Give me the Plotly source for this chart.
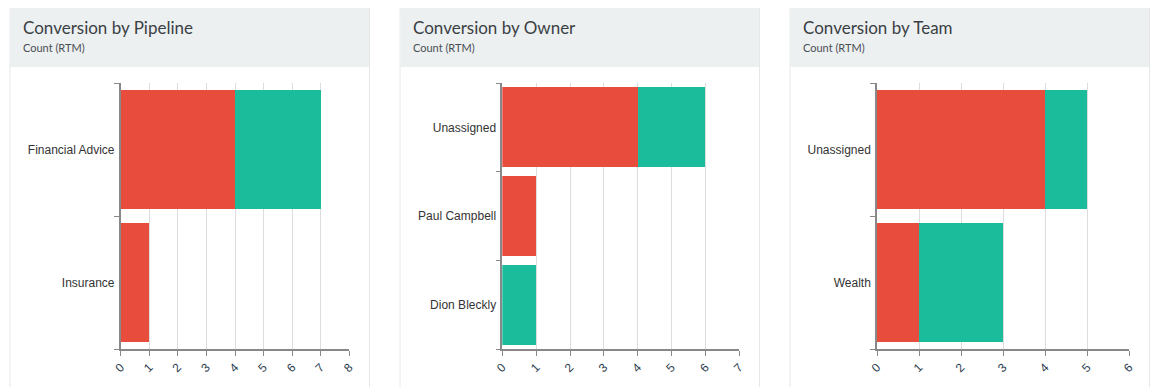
import plotly.graph_objects as go

# page body keeps its default 8px margin, so the figure is drawn 8px in
OFF = 8
PAGE_W, PAGE_H = 1159, 387
W, H = PAGE_W - OFF, PAGE_H - OFF

pipeline_cats = ["Financial Advice", "Insurance"]
pipeline_lost = [4, 1]
pipeline_won = [3, 0]

owner_cats = ["Unassigned", "Paul Campbell", "Dion Bleckly"]
owner_lost = [4, 1, 0]
owner_won = [2, 0, 1]

team_cats = ["Unassigned", "Wealth"]
team_lost = [4, 1]
team_won = [1, 2]

titles = ["Conversion by Pipeline", "Conversion by Owner", "Conversion by Team"]
subtitle = "Count (RTM)"
x_max = [8, 7, 6]

RED = "#e74c3c"
GREEN = "#1abc9c"

panels = [
    (pipeline_cats, pipeline_lost, pipeline_won),
    (owner_cats, owner_lost, owner_won),
    (team_cats, team_lost, team_won),
]

# layout in page pixels
cards = [(10, 369.5), (400, 759.5), (790, 1149.5)]
plot_x = [(120.7, 349.3), (502.3, 739.3), (877, 1129.3)]
plot_y = (83, 349)

def px(x):
    return (x - OFF) / W

def py(y):
    return 1 - (y - OFF) / H

fig = go.Figure()
shapes = []
annotations = []

for i, (cats, lost, won) in enumerate(panels):
    n = i + 1
    xa = "x" if n == 1 else f"x{n}"
    ya = "y" if n == 1 else f"y{n}"
    fig.add_trace(go.Bar(y=cats, x=lost, orientation="h", name="Lost",
                         marker=dict(color=RED, line=dict(width=0)),
                         xaxis=xa, yaxis=ya, showlegend=False))
    fig.add_trace(go.Bar(y=cats, x=won, orientation="h", name="Won",
                         marker=dict(color=GREEN, line=dict(width=0)),
                         xaxis=xa, yaxis=ya, showlegend=False))

    x0, x1 = plot_x[i]
    xkey = "xaxis" if n == 1 else f"xaxis{n}"
    ykey = "yaxis" if n == 1 else f"yaxis{n}"
    fig.update_layout(**{
        xkey: dict(domain=[px(x0), px(x1)], anchor=ya, range=[0, x_max[i]],
                   dtick=1, tick0=0, showgrid=True, gridcolor="#dddddd",
                   gridwidth=1, zeroline=False, showline=True, automargin=False,
                   linecolor="#888888", linewidth=1.5, ticks="outside",
                   ticklen=5, tickcolor="#888888", tickangle=-45,
                   tickfont=dict(family="Liberation Sans", size=12, color="#2c3e50")),
        ykey: dict(domain=[py(plot_y[1]), py(plot_y[0])], anchor=xa,
                   categoryorder="array", categoryarray=list(reversed(cats)),
                   showgrid=False, zeroline=False, showline=True, automargin=False,
                   linecolor="#888888", linewidth=1.5, ticks="outside",
                   ticklen=5, tickcolor="#888888", tickson="boundaries",
                   ticklabelstandoff=2,
                   tickfont=dict(family="Liberation Sans", size=12, color="#333333")),
    })

    cx0, cx1 = cards[i]
    # card body
    shapes.append(dict(type="rect", xref="paper", yref="paper",
                       x0=px(cx0), x1=px(cx1), y0=py(PAGE_H + 5), y1=py(8),
                       fillcolor="white", line=dict(color="#e6e8e8", width=1),
                       layer="below"))
    # header
    shapes.append(dict(type="rect", xref="paper", yref="paper",
                       x0=px(cx0 + 0.5), x1=px(cx1 - 0.5), y0=py(67), y1=py(8.5),
                       fillcolor="#ecf0f1", line=dict(width=0), layer="below"))
    annotations.append(dict(xref="paper", yref="paper", x=px(cx0 + 11), y=py(28),
                            xanchor="left", yanchor="middle", showarrow=False,
                            text=titles[i],
                            font=dict(family="Lato", size=17, color="#3a3f44")))
    annotations.append(dict(xref="paper", yref="paper", x=px(cx0 + 11), y=py(47),
                            xanchor="left", yanchor="middle", showarrow=False,
                            text=subtitle,
                            font=dict(family="Lato", size=11, color="#4a4f54")))

fig.update_layout(
    width=W, height=H, margin=dict(l=0, r=0, t=0, b=0, pad=0), autosize=False,
    paper_bgcolor="white", plot_bgcolor="rgba(0,0,0,0)",
    barmode="stack", bargap=0.1, showlegend=False,
    shapes=shapes, annotations=annotations,
)

fig.write_html("out.html", config={"displayModeBar": False})
